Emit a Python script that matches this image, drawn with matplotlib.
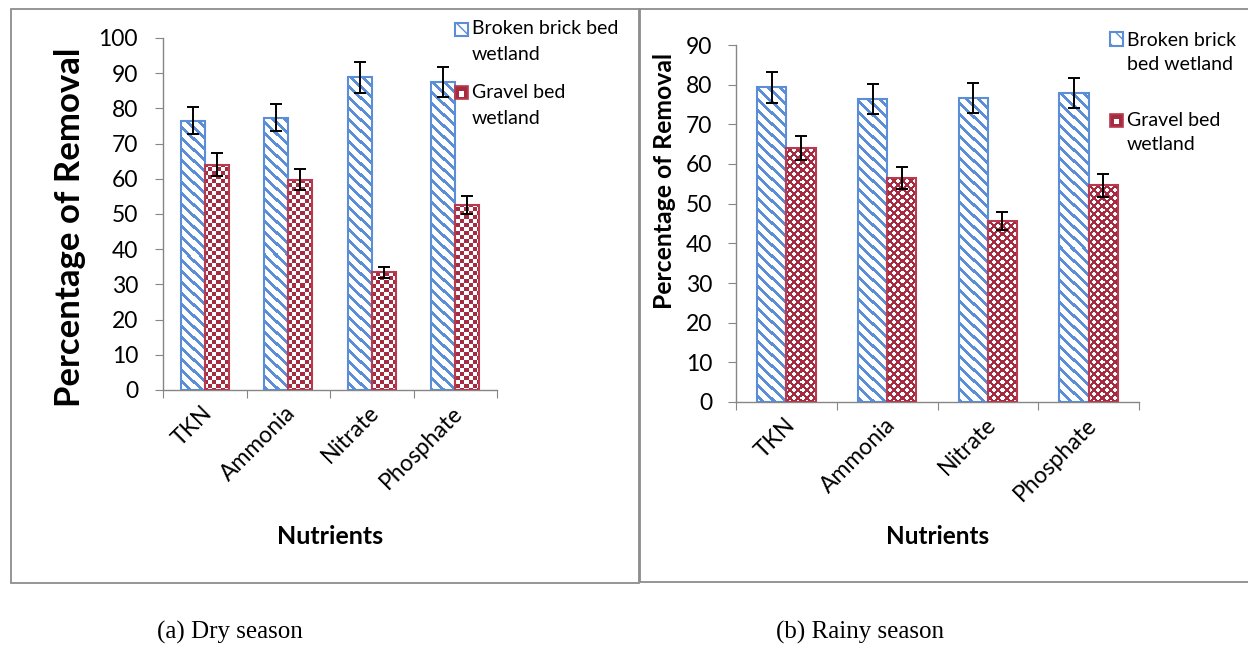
import numpy as np
import matplotlib
matplotlib.use('Agg')
import matplotlib.pyplot as plt
from matplotlib.patches import Rectangle
from matplotlib.colors import to_rgb

# ── data ─────────────────────────────────────────────────────────────────────
nutrients = ['TKN', 'Ammonia', 'Nitrate', 'Phosphate']

dry_brick = [76.5, 77.4, 88.9, 87.5]
dry_brick_err = [3.8, 3.8, 4.4, 4.4]
dry_gravel = [64.0, 59.7, 33.4, 52.6]
dry_gravel_err = [3.2, 3.0, 1.6, 2.5]

rainy_brick = [79.3, 76.3, 76.6, 77.9]
rainy_brick_err = [3.9, 3.8, 3.8, 3.8]
rainy_gravel = [64.0, 56.5, 45.6, 54.6]
rainy_gravel_err = [3.1, 2.7, 2.2, 2.8]

dry_yticks = [0, 10, 20, 30, 40, 50, 60, 70, 80, 90, 100]
rainy_yticks = [0, 10, 20, 30, 40, 50, 60, 70, 80, 90]

# ── style ────────────────────────────────────────────────────────────────────
BLUE = '#5B8ED6'
RED = '#A52B40'
RED_EDGE = '#B83A4E'
GREY = '#868686'
FRAME = '#8C8C8C'

plt.rcParams.update({'font.family': 'Lato', 'font.size': 16})

W, H = 1248, 655
fig = plt.figure(figsize=(W / 100, H / 100), dpi=100)
fig.patch.set_facecolor('white')


def fx(x):
    return x / W


def fy(y):
    return 1 - y / H


def pattern_fill(ax, x0, x1, top, kind, color):
    """Fill a bar footprint with a pixel pattern (stripes / checks / dots)."""
    (px0, py0) = ax.transData.transform((x0, 0))
    (px1, py1) = ax.transData.transform((x1, top))
    nx = max(1, int(round(px1 - px0)))
    ny = max(1, int(round(py1 - py0)))
    j = np.arange(nx)[None, :] + int(round(px0))
    i = np.arange(ny)[:, None] + int(round(H - py1))
    if kind == 'stripe':
        mask = ((i - j) % 11) < 4
    elif kind == 'check':
        mask = ((i // 4 + j // 4) % 2) == 0
    else:  # rounded dots on red
        ci, cj = i % 4, j % 4
        corner = np.isin(ci, (0, 3)) & np.isin(cj, (0, 3))
        mask = (((i // 4 + j // 4) % 2) == 0) | corner
    img = np.ones((ny, nx, 3))
    img[np.broadcast_to(mask, (ny, nx))] = to_rgb(color)
    ax.imshow(img, extent=(x0, x1, 0, top), aspect='auto',
              interpolation='nearest', origin='upper', zorder=2)


def panel(rect, ymax, yticks, brick, brick_err, gravel, gravel_err,
          red_kind, ypad, fs):
    ax = fig.add_axes(rect)
    x = np.arange(len(nutrients))
    w = 0.29
    ax.set_xlim(-0.5, len(nutrients) - 0.5)
    ax.set_ylim(0, ymax)

    for xi, b, g in zip(x, brick, gravel):
        pattern_fill(ax, xi - w, xi, b, 'stripe', BLUE)
        pattern_fill(ax, xi, xi + w, g, red_kind, RED)
    ax.set_xlim(-0.5, len(nutrients) - 0.5)
    ax.set_ylim(0, ymax)
    ax.set_aspect('auto')

    ax.bar(x - w / 2, brick, w, fill=False, edgecolor=BLUE, lw=1.5, zorder=3)
    ax.bar(x + w / 2, gravel, w, fill=False, edgecolor=RED_EDGE, lw=1.5, zorder=3)
    ax.errorbar(x - w / 2, brick, yerr=brick_err, fmt='none', ecolor='black',
                elinewidth=1.4, capsize=4.3, capthick=1.4, zorder=4)
    ax.errorbar(x + w / 2, gravel, yerr=gravel_err, fmt='none', ecolor='black',
                elinewidth=1.4, capsize=4.3, capthick=1.4, zorder=4)

    for s in ('top', 'right'):
        ax.spines[s].set_visible(False)
    for s in ('left', 'bottom'):
        ax.spines[s].set_color(GREY)
        ax.spines[s].set_linewidth(1.0)

    ax.set_yticks(yticks)
    ax.tick_params(axis='y', direction='out', length=6, color=GREY,
                   pad=ypad, labelsize=fs)
    ax.set_xticks(np.arange(len(nutrients) + 1) - 0.5)
    ax.set_xticklabels([])
    ax.tick_params(axis='x', which='major', direction='out', length=6,
                   color=GREY)
    # category labels sit a little right of centre, Excel style
    ax.set_xticks(x + 0.05, minor=True)
    ax.set_xticklabels(nutrients, minor=True, rotation=45, ha='right',
                       va='center', rotation_mode='anchor', fontsize=fs)
    ax.tick_params(axis='x', which='minor', length=0, pad=14)
    return ax


# ── (a) dry season ───────────────────────────────────────────────────────────
ax1 = panel([fx(163), fy(390), fx(497 - 163), (390 - 38) / H], 100,
            dry_yticks, dry_brick, dry_brick_err, dry_gravel, dry_gravel_err,
            'check', 12, 16.5)
# ── (b) rainy season ─────────────────────────────────────────────────────────
ax2 = panel([fx(736), fy(402), fx(1139 - 736), (402 - 45) / H], 90,
            rainy_yticks, rainy_brick, rainy_brick_err, rainy_gravel,
            rainy_gravel_err, 'dots', 11, 16.5)

# axis titles
fig.text(fx(70), fy(227), 'Percentage of Removal', rotation=90, ha='center',
         va='center', fontsize=25, fontweight='bold')
fig.text(fx(665), fy(181), 'Percentage of Removal', rotation=90, ha='center',
         va='center', fontsize=17.8, fontweight='bold')
fig.text(fx(330), fy(537), 'Nutrients', ha='center', va='center',
         fontsize=18, fontweight='bold')
fig.text(fx(938), fy(537), 'Nutrients', ha='center', va='center',
         fontsize=17.5, fontweight='bold')


# ── legends (drawn by hand, Excel style) ─────────────────────────────────────
def legend_entry(xm, ym, lines, line_ys, kind):
    s = 13
    if kind == 'brick':
        fig.patches.append(Rectangle((fx(xm), fy(ym + s / 2)), s / W, s / H,
                                     transform=fig.transFigure,
                                     facecolor='white', edgecolor=BLUE,
                                     lw=1.5, hatch='\\\\'))
    else:
        fig.patches.append(Rectangle((fx(xm), fy(ym + s / 2)), s / W, s / H,
                                     transform=fig.transFigure,
                                     facecolor=RED, edgecolor=RED_EDGE, lw=1.2))
        fig.patches.append(Rectangle((fx(xm + 4), fy(ym + 4)), 5 / W, 5 / H,
                                     transform=fig.transFigure,
                                     facecolor='white', edgecolor='none'))
    for txt, yy in zip(lines, line_ys):
        fig.text(fx(xm + 17), fy(yy), txt, ha='left', va='center', fontsize=14)


legend_entry(455, 29.5, ['Broken brick bed', 'wetland'], [29, 55], 'brick')
legend_entry(455, 92.5, ['Gravel bed', 'wetland'], [93, 119], 'gravel')
legend_entry(1110, 39, ['Broken brick', 'bed wetland'], [40, 64], 'brick')
legend_entry(1110, 120, ['Gravel bed', 'wetland'], [120, 145], 'gravel')

# ── chart frames ─────────────────────────────────────────────────────────────
fig.patches.append(Rectangle((fx(11), fy(583)), (639 - 11) / W, (583 - 9) / H,
                             transform=fig.transFigure, fill=False,
                             edgecolor=FRAME, lw=1.3))
fig.patches.append(Rectangle((fx(640), fy(582)), (1260 - 640) / W, (582 - 9) / H,
                             transform=fig.transFigure, fill=False,
                             edgecolor=FRAME, lw=1.3))

# ── captions ────────────────────────────────────────────────────────────────
fig.text(fx(230), fy(632), '(a) Dry season', ha='center', va='center',
         fontsize=18, family='Liberation Serif')
fig.text(fx(860), fy(632), '(b) Rainy season', ha='center', va='center',
         fontsize=18, family='Liberation Serif')

fig.savefig('out.png', dpi=100)
